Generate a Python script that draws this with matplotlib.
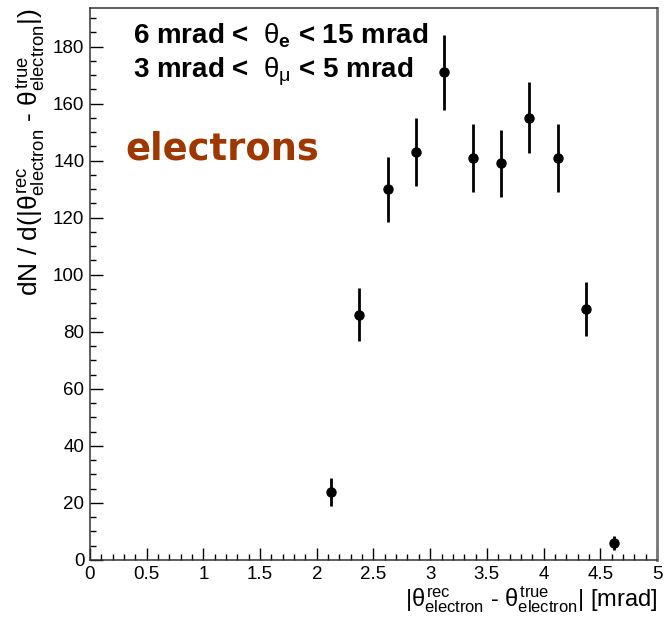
import numpy as np
import matplotlib
matplotlib.use("Agg")
import matplotlib.pyplot as plt
from matplotlib.ticker import MultipleLocator

plt.rcParams['font.family'] = ['Liberation Sans', 'DejaVu Sans']
plt.rcParams['mathtext.fontset'] = 'custom'
plt.rcParams['mathtext.rm'] = 'Liberation Sans'
plt.rcParams['mathtext.it'] = 'Liberation Sans'
plt.rcParams['mathtext.bf'] = 'Liberation Sans:bold'

# histogram content, bins of 0.25 mrad
bin_centers = [2.125, 2.375, 2.625, 2.875, 3.125, 3.375, 3.625, 3.875, 4.125, 4.375, 4.625]
counts = [24, 86, 130, 143, 171, 141, 139, 155, 141, 88, 6]
errors = [4.9, 9.3, 11.4, 12.0, 13.1, 11.9, 11.8, 12.4, 11.9, 9.4, 2.4]

fig = plt.figure(figsize=(6.69, 6.17), dpi=100)
ax = fig.add_axes([0.1345, 0.0924, 0.8475, 0.8946])

ax.errorbar(bin_centers, counts, yerr=errors, fmt='o', color='black',
            markersize=6.5, elinewidth=2.0, capsize=0)

ax.set_xlim(0, 5)
ax.set_ylim(0, 193.5)
ax.xaxis.set_major_locator(MultipleLocator(0.5))
ax.xaxis.set_minor_locator(MultipleLocator(0.1))
ax.yaxis.set_major_locator(MultipleLocator(20))
ax.yaxis.set_minor_locator(MultipleLocator(5))
ax.set_xticks([0, 0.5, 1, 1.5, 2, 2.5, 3, 3.5, 4, 4.5, 5])
ax.set_xticklabels(['0', '0.5', '1', '1.5', '2', '2.5', '3', '3.5', '4', '4.5', '5'])
ax.tick_params(which='major', direction='in', length=9, width=1, labelsize=13.5, pad=4)
ax.tick_params(which='minor', direction='in', length=4.5, width=1)
ax.tick_params(top=False, right=False)

for s in ax.spines.values():
    s.set_color('#333333')
    s.set_linewidth(1.1)
ax.spines['right'].set_color('#777777')
ax.spines['right'].set_linewidth(2)

ax.set_xlabel(r'$|\theta^{\rm rec}_{\rm electron}$ - $\theta^{\rm true}_{\rm electron}|$ [mrad]',
              fontsize=17, loc='right', labelpad=1)
ax.set_ylabel(r'dN / d($|\theta^{\rm rec}_{\rm electron}$ - $\theta^{\rm true}_{\rm electron}|$)',
              fontsize=19, loc='top', labelpad=4)

ax.text(0.075, 0.949, r'6 mrad <  $\theta_{\mathbf{e}}$ < 15 mrad', transform=ax.transAxes,
        fontsize=20, fontweight='bold', va='center', ha='left')
ax.text(0.075, 0.885, r'3 mrad <  $\theta_{\mu}$ < 5 mrad', transform=ax.transAxes,
        fontsize=20, fontweight='bold', va='center', ha='left')
ax.text(0.062, 0.745, 'electrons', transform=ax.transAxes, family='DejaVu Sans',
        fontsize=26.5, fontweight='bold', color='#9e3800', va='center', ha='left')

fig.savefig('out.png', dpi=100)
